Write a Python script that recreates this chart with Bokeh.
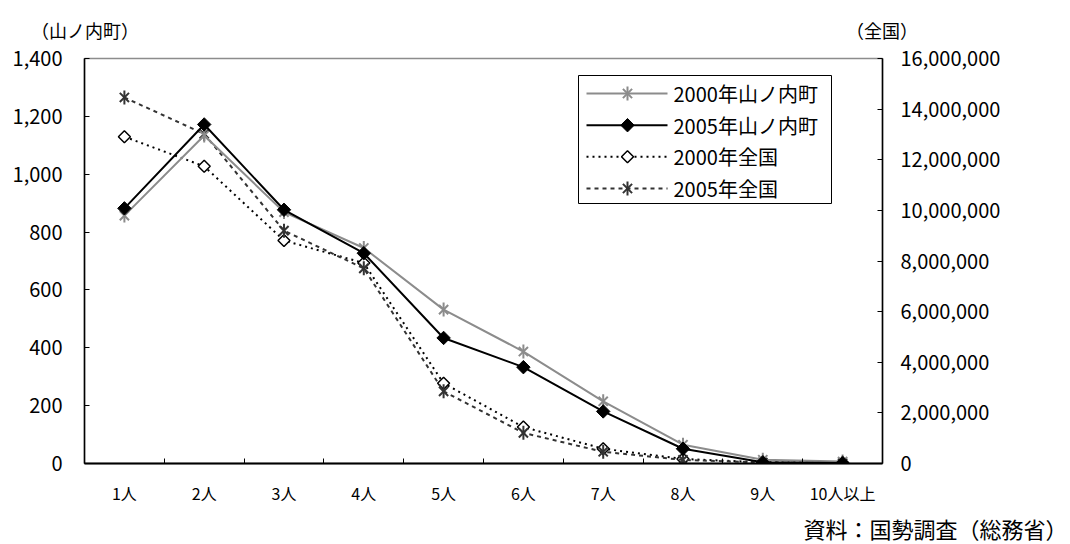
import math
from bokeh.plotting import figure
from bokeh.models import (Range1d, LinearAxis, FixedTicker, NumeralTickFormatter,
                          ColumnDataSource, Title)
from bokeh.core.properties import value
from bokeh.embed import file_html
from bokeh.resources import INLINE

# Household size categories
categories = ["1人", "2人", "3人", "4人", "5人", "6人", "7人", "8人", "9人", "10人以上"]

# Households in Yamanouchi town (left axis)
yamanouchi_2000 = [857, 1134, 869, 745, 532, 387, 215, 65, 13, 7]
yamanouchi_2005 = [882, 1172, 877, 727, 434, 333, 180, 51, 4, 2]

# Households nationwide (right axis)
national_2000 = [12910000, 11740000, 8810000, 7920000, 3170000, 1440000, 584000, 178000, 48000, 20000]
national_2005 = [14460000, 13020000, 9200000, 7710000, 2850000, 1210000, 462000, 143000, 40000, 16000]

series_names = ["2000年山ノ内町", "2005年山ノ内町", "2000年全国", "2005年全国"]
axis_captions = ["（山ノ内町）", "（全国）"]
source_note = "資料：国勢調査（総務省）"

left_ticks = list(range(0, 1401, 200))
right_ticks = list(range(0, 16000001, 2000000))

FONT = "Noto Sans CJK JP"
GRAY = "#8c8c8c"
DARK = "#333333"

# geometry in pixels
W, H = 1070, 544
FW, FH = 798, 405
LEFT, TOP = 84, 58
RIGHT = W - LEFT - FW
BOTTOM = H - TOP - FH
X_MAX, Y_MAX = len(categories), 1400

xs = [i + 0.5 for i in range(len(categories))]
src = ColumnDataSource(dict(x=xs, y00=yamanouchi_2000, y05=yamanouchi_2005,
                            n00=national_2000, n05=national_2005))

p = figure(frame_width=FW, frame_height=FH, output_backend="svg", toolbar_location=None,
           x_range=Range1d(0, X_MAX), y_range=Range1d(0, Y_MAX),
           min_border_left=LEFT, min_border_right=RIGHT, min_border_top=TOP,
           min_border_bottom=BOTTOM)
p.extra_y_ranges = {"nat": Range1d(0, 16000000)}
# pixel-based range used to place the two axis captions over the frame corners
p.extra_x_ranges = {"cap": Range1d(LEFT - 0.5, LEFT + FW + 0.5)}
p.grid.visible = False
p.outline_line_color = GRAY
p.outline_line_width = 1.5
p.background_fill_color = "white"
p.border_fill_color = "white"

# x axis: labels centred in each category, small ticks on the boundaries
xa = p.xaxis[0]
xa.ticker = FixedTicker(ticks=xs, minor_ticks=list(range(1, len(categories))))
xa.major_label_overrides = {x: c for x, c in zip(xs, categories)}
xa.major_tick_in = 0
xa.major_tick_out = 0
xa.minor_tick_in = 5
xa.minor_tick_out = 0
xa.minor_tick_line_color = "black"
xa.axis_line_color = "black"
xa.axis_line_width = 2
xa.major_label_text_font = FONT
xa.major_label_text_font_size = "16px"
xa.major_label_text_color = "black"
xa.major_label_standoff = 17

ya = p.yaxis[0]
ya.ticker = FixedTicker(ticks=left_ticks)
ya.formatter = NumeralTickFormatter(format="0,0")
ya.major_tick_in = 5
ya.major_tick_out = 0
ya.minor_tick_line_color = None
ya.axis_line_color = "black"
ya.axis_line_width = 1.5
ya.major_tick_line_color = "black"
ya.major_label_text_font = FONT
ya.major_label_text_font_size = "20px"
ya.major_label_text_color = "black"
ya.major_label_standoff = 22

ra = LinearAxis(y_range_name="nat", ticker=FixedTicker(ticks=right_ticks),
                formatter=NumeralTickFormatter(format="0,0"))
ra.major_tick_in = 5
ra.major_tick_out = 0
ra.minor_tick_line_color = None
ra.axis_line_color = "black"
ra.axis_line_width = 1.5
ra.major_label_text_font = FONT
ra.major_label_text_font_size = "20px"
ra.major_label_text_color = "black"
ra.major_label_standoff = 18
p.add_layout(ra, "right")

# captions for the two value axes, above the frame's left and right edges
cap_pos = [LEFT, LEFT + FW]
ca = LinearAxis(x_range_name="cap", ticker=FixedTicker(ticks=cap_pos))
ca.major_label_overrides = {x: t for x, t in zip(cap_pos, axis_captions)}
ca.axis_line_color = None
ca.major_tick_line_color = None
ca.minor_tick_line_color = None
ca.major_label_text_font = FONT
ca.major_label_text_font_size = "18px"
ca.major_label_text_color = "black"
ca.major_label_standoff = 10
p.add_layout(ca, "above")

# line and marker styles per series
line_styles = [
    dict(line_color=GRAY, line_width=2),
    dict(line_color="black", line_width=2),
    dict(line_color="black", line_width=2, line_dash="2 4"),
    dict(line_color=DARK, line_width=2, line_dash="4 4"),
]


def asterisk(color):
    return [dict(marker="x", size=13, line_color=color, line_width=2),
            dict(marker="dash", angle=math.pi / 2, size=14, line_color=color, line_width=2)]


marker_styles = [
    asterisk(GRAY),
    [dict(marker="square", angle=math.pi / 4, size=9.5, fill_color="black", line_color="black")],
    [dict(marker="square", angle=math.pi / 4, size=8.5, fill_color="white", line_color="black",
          line_width=1.5)],
    asterisk(DARK),
]

# draw order: nationwide series under the town series
cols = ["y00", "y05", "n00", "n05"]
ranges = ["default", "default", "nat", "nat"]
for i in [2, 3, 0, 1]:
    p.line("x", cols[i], source=src, y_range_name=ranges[i], **line_styles[i])
    for ms in marker_styles[i]:
        p.scatter("x", cols[i], source=src, y_range_name=ranges[i], **ms)


# legend box, placed by page pixel positions
def fx(px):
    return (px - LEFT) / FW * X_MAX


def fy(py):
    return (TOP + FH - py) / FH * Y_MAX


p.quad(left=[fx(578)], right=[fx(831)], top=[fy(75)], bottom=[fy(203)],
       fill_color="white", line_color="black", line_width=1)
row_y = [93, 124.7, 156.3, 188]
for i, name in enumerate(series_names):
    yy = fy(row_y[i])
    p.line([fx(586), fx(667)], [yy, yy], **line_styles[i])
    for ms in marker_styles[i]:
        p.scatter([fx(627)], [yy], **ms)
    p.text([fx(673)], [yy], text=[name], text_font=value(FONT), text_font_size="20px",
           text_color="black", text_baseline="middle", text_align="left")

# source note below the category axis, right-aligned near the page edge
note = Title(text=source_note, align="right", offset=-(W - 3 - LEFT - FW),
             text_font=FONT, text_font_size="22px", text_font_style="normal",
             text_color="black", standoff=4)
p.add_layout(note, "below")

open("out.html", "w").write(file_html(p, INLINE))
